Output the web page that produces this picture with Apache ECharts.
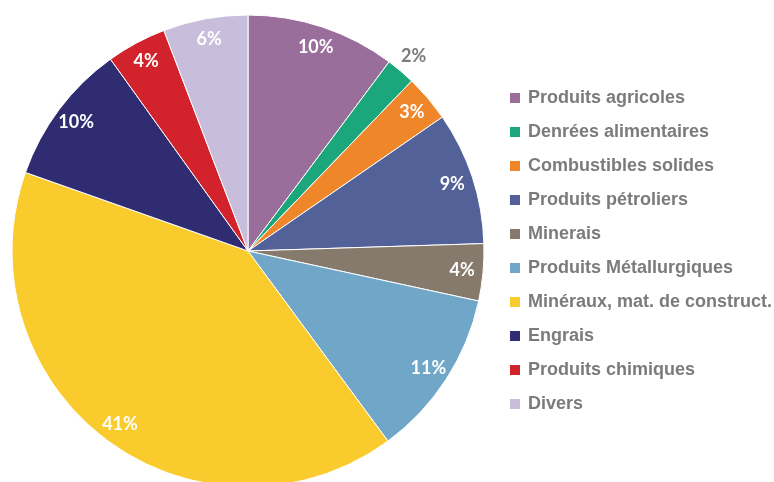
<!DOCTYPE html>
<html>

<head>
    <meta charset="utf-8">
    <title></title>
    <style>
        html, body { margin: 0; padding: 0; background: #fff; }
        #chart { width: 774px; height: 482px; }
    </style>
</head>

<body>
    <div id="chart"></div>
    <script src="https://cdn.jsdelivr.net/npm/echarts@6/dist/echarts.min.js"></script>
    <script>
    // données (en %)
    var categories = ['Produits agricoles', 'Denrées alimentaires', 'Combustibles solides', 'Produits pétroliers',
        'Minerais', 'Produits Métallurgiques', 'Minéraux, mat. de construct.', 'Engrais', 'Produits chimiques', 'Divers'];
    var values = [10.2, 2.0, 3.2, 9.1, 3.9, 11.5, 40.5, 9.7, 4.1, 5.8];
    var labels = ['10%', '2%', '3%', '9%', '4%', '11%', '41%', '10%', '4%', '6%'];
    var colors = ['#9a6e9a', '#1ba67c', '#f0862a', '#526198', '#857a6b', '#70a6c8', '#f9cb2d', '#2f2c72', '#d2232c', '#c8bedb'];

    var myChart = echarts.init(document.getElementById('chart'));

    var cx = 248, cy = 251, R = 236;

    function pieData(showIdx) {
        return categories.map(function(name, i) {
            return {
                name: name,
                value: values[i],
                label: { show: showIdx(i), formatter: labels[i] }
            };
        });
    }

    var overlay = {
        type: 'pie',
        center: [cx, cy],
        startAngle: 90,
        silent: true,
        animation: false,
        itemStyle: { color: 'rgba(0,0,0,0)', borderWidth: 0 },
        labelLine: { show: false }
    };

    var option = {
        animation: false,
        color: colors,
        legend: {
            orient: 'vertical',
            left: 503,
            top: 83,
            itemWidth: 12,
            itemHeight: 12,
            itemGap: 14,
            icon: 'rect',
            selectedMode: false,
            data: categories.map(function(name, i) {
                return { name: name, itemStyle: { color: colors[i] } };
            }),
            textStyle: {
                fontFamily: '"Liberation Sans", Arial, sans-serif',
                fontWeight: 'bold',
                fontSize: 18,
                lineHeight: 20,
                color: '#7b7b7b',
                padding: [0, 0, 0, 2]
            }
        },
        series: [{
            name: 'parts',
            type: 'pie',
            center: [cx, cy],
            radius: [0, R],
            startAngle: 90,
            itemStyle: { borderColor: '#fff', borderWidth: 1 },
            label: { show: false },
            labelLine: { show: false },
            emphasis: { scale: false },
            data: categories.map(function(name, i) {
                return { name: name, value: values[i] };
            })
        }, Object.assign({}, overlay, {
            radius: [188, R],
            label: {
                position: 'inside',
                color: '#fff',
                fontFamily: 'Lato, sans-serif',
                fontWeight: 'bold',
                fontSize: 18
            },
            data: pieData(function(i) { return i !== 1; })
        }), Object.assign({}, overlay, {
            radius: [R, 270],
            label: {
                position: 'inside',
                color: '#7b7b7b',
                fontFamily: 'Lato, sans-serif',
                fontWeight: 'bold',
                fontSize: 18
            },
            data: pieData(function(i) { return i === 1; })
        })]
    };

    myChart.setOption(option);
    addEventListener('resize', myChart.resize);
    </script>
</body>

</html>
